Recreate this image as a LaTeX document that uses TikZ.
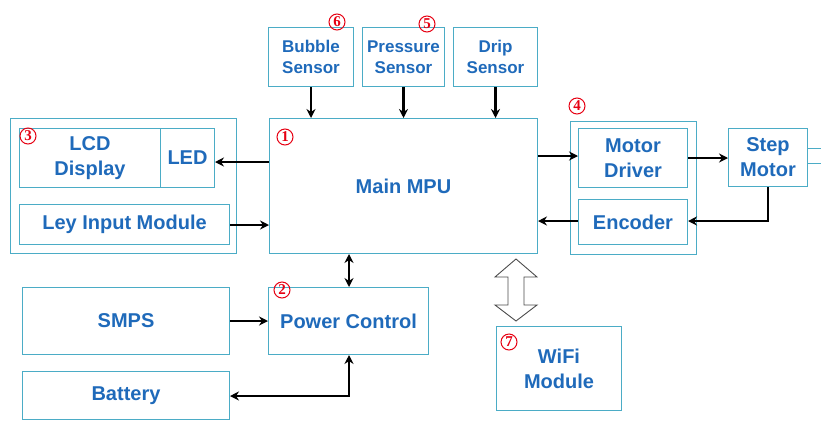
\documentclass[tikz,border=0pt]{standalone}
\usepackage{fontspec}
\setmainfont{Liberation Sans}
\newfontfamily\numfont{Liberation Serif}
\usetikzlibrary{arrows.meta}
\definecolor{boxc}{RGB}{75,172,198}
\definecolor{txtc}{RGB}{31,106,186}
\definecolor{numc}{RGB}{230,0,18}
\tikzset{
  blk/.style={draw=boxc, line width=1pt, text=txtc, font=\bfseries\fontsize{20}{25}\selectfont, align=center, inner sep=0pt, anchor=north west},
  sens/.style={blk, font=\bfseries\fontsize{17}{21}\selectfont},
  grp/.style={draw=boxc, line width=1pt},
  num/.style={circle, draw=numc, text=numc, line width=1pt, inner sep=0pt, minimum size=16pt, font=\numfont\bfseries\fontsize{15}{15}\selectfont},
  arr/.style={line width=2.6pt, -{Stealth[length=9pt,width=9pt]}},
  darr/.style={line width=2.6pt, {Stealth[length=9pt,width=9pt]}-{Stealth[length=9pt,width=9pt]}},
}
\begin{document}
\begin{tikzpicture}[x=1pt,y=-1pt]
\useasboundingbox (0,0) rectangle (821,421);
% groups
\draw[grp] (10,118) rectangle (236,253);
\draw[grp] (570,121) rectangle (696,254);
% nodes
\node[blk, minimum width=141pt, minimum height=59pt] (lcd) at (19,128) {LCD\\Display};
\node[blk, minimum width=54pt, minimum height=59pt] (led) at (160,128) {LED};
\node[blk, minimum width=210pt, minimum height=40pt] (ley) at (19,204) {Ley Input Module};
\node[blk, minimum width=268pt, minimum height=135pt] (mpu) at (269,118) {Main MPU};
\node[sens, minimum width=85pt, minimum height=59pt] (bub) at (268,27) {Bubble\\Sensor};
\node[sens, minimum width=82pt, minimum height=59pt] (pre) at (362,27) {Pressure\\Sensor};
\node[sens, minimum width=84pt, minimum height=59pt] (drip) at (453,27) {Drip\\Sensor};
\node[blk, minimum width=109pt, minimum height=59pt] (md) at (578,128) {Motor\\Driver};
\node[blk, minimum width=109pt, minimum height=45pt] (enc) at (578,199) {Encoder};
\node[blk, minimum width=79pt, minimum height=58pt] (step) at (728,128) {Step\\Motor};
\node[blk, minimum width=207pt, minimum height=67pt] (smps) at (22,287) {SMPS};
\node[blk, minimum width=207pt, minimum height=48pt] (bat) at (22,371) {Battery};
\node[blk, minimum width=160pt, minimum height=67pt] (pc) at (268,287) {Power Control};
\node[blk, minimum width=125pt, minimum height=84pt] (wifi) at (496,326) {WiFi\\Module};
% shaft lines from step motor
\coordinate (s1) at (821,148);
\coordinate (s2) at (821,163);
\draw[boxc, line width=1pt] (step.east |- s1) -- (s1);
\draw[boxc, line width=1pt] (step.east |- s2) -- (s2);
% sensor arrows
\draw[arr] (bub.south) -- (bub.south |- mpu.north);
\draw[arr] (pre.south) -- (pre.south |- mpu.north);
\draw[arr] (drip.south) -- (drip.south |- mpu.north);
% left
\coordinate (ledy) at (0,162);
\coordinate (leyy) at (0,225);
\draw[arr] (mpu.west |- ledy) -- (led.east |- ledy);
\draw[arr] (ley.east |- leyy) -- (mpu.west |- leyy);
% right
\coordinate (mdy) at (0,156);
\coordinate (sty) at (0,158);
\coordinate (ency) at (0,221);
\draw[arr] (mpu.east |- mdy) -- (md.west |- mdy);
\draw[arr] (md.east |- sty) -- (step.west |- sty);
\draw[arr] (step.south) |- (enc.east |- ency);
\draw[arr] (enc.west |- ency) -- (mpu.east |- ency);
% power
\coordinate (pcx) at (349,0);
\coordinate (smy) at (0,321);
\coordinate (baty) at (0,396);
\draw[darr] (pcx |- mpu.south) -- (pcx |- pc.north);
\draw[arr] (smps.east |- smy) -- (pc.west |- smy);
\draw[darr] (bat.east |- baty) -| (pcx |- pc.south);
% hollow double arrow
\draw[draw=black!70, line width=0.9pt, fill=white]
  (516,259) -- (537,277) -- (524,277) -- (524,305) -- (537,305) -- (516,321)
  -- (495,305) -- (508,305) -- (508,277) -- (495,277) -- cycle;
% numbers
\node[num] (n1) at (285,137) {1};
\node[num] (n2) at (282,290) {2};
\node[num] (n3) at (28,136) {3};
\node[num] (n4) at (577,106) {4};
\node[num] (n5) at (427,24) {5};
\node[num] (n6) at (337,22) {6};
\node[num] (n7) at (509,342) {7};
\end{tikzpicture}
\end{document}
